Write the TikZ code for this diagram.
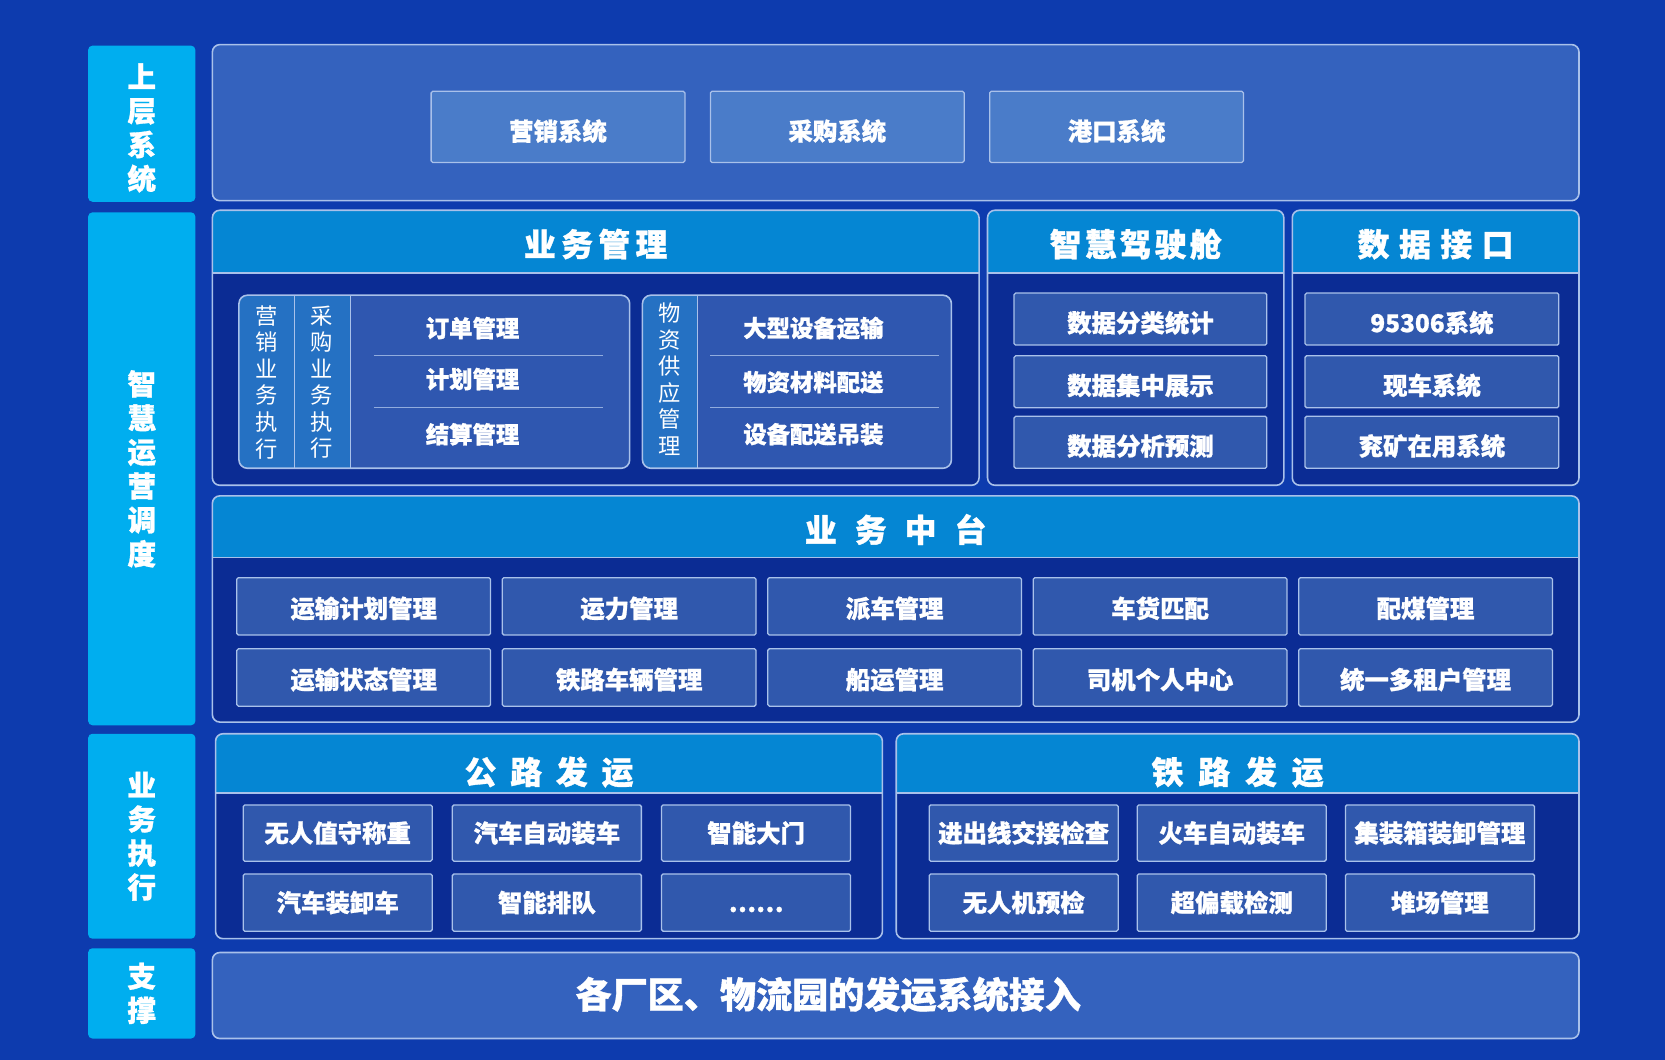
\documentclass[tikz,border=0pt]{standalone}
\usepackage{fontspec}
\newfontfamily\cjk{Noto Sans CJK SC}[BoldFeatures={FakeBold=1}]
\usetikzlibrary{positioning}
\definecolor{bgblue}{HTML}{0D3BAE}
\definecolor{labcyan}{HTML}{00AEEF}
\definecolor{topfill}{HTML}{3462BE}
\definecolor{topitem}{HTML}{4A7CC9}
\definecolor{hdrblue}{HTML}{0586D3}
\definecolor{bodyblue}{HTML}{0B2C94}
\definecolor{itemblue}{HTML}{3058AD}
\definecolor{grpblue}{HTML}{2F57B0}
\definecolor{stripblue}{HTML}{2571C3}
\definecolor{edge}{HTML}{A9C1EA}

\tikzset{
  lab/.style={fill=labcyan, rounded corners=4pt, text=white, align=center, inner sep=0pt,
    font=\cjk\bfseries\fontsize{27}{32}\selectfont},
  panel/.style={draw=edge, line width=1.5pt, rounded corners=7pt},
  head/.style={text=white, inner sep=0pt, text height=22.8pt, text depth=0pt,
    font=\cjk\bfseries\fontsize{30}{34}\selectfont},
  item/.style={draw=edge, line width=1.2pt, fill=itemblue, rounded corners=1.5pt, text=white,
    inner sep=0pt, text height=#1, text depth=0pt, font=\cjk\bfseries\fontsize{23}{27}\selectfont},
  item/.default=17.5pt,
  plain/.style={text=white, inner sep=0pt, font=\cjk\bfseries\fontsize{22}{26}\selectfont},
  vert/.style={text=white, align=center, inner sep=0pt, font=\cjk\fontsize{21}{25}\selectfont},
  sepline/.style={draw=edge!80!grpblue, line width=0.8pt}
}

\begin{document}
\begin{tikzpicture}[x=1pt, y=-1pt]
  \fill[bgblue] (0,0) rectangle (1568,998);
  \useasboundingbox (0,0) rectangle (1568,998);

  % layer labels
  \node[lab, minimum width=101pt, minimum height=147pt] (sys) at (133.5,116.5) {};
  \node[lab, fill=none] (sys-text) at (133.5,120.5) {上\\层\\系\\统};
  \node[lab, minimum width=101pt, minimum height=483pt] (ops) at (133.5,441.5) {智\\慧\\运\\营\\调\\度};
  \node[lab, minimum width=101pt, minimum height=193pt] (exec) at (133.5,787.5) {业\\务\\执\\行};
  \node[lab, minimum width=101pt, minimum height=85pt] (base) at (133.5,935.5) {支\\撑};

  % upper systems
  \draw[panel, fill=topfill] (200,42) rectangle (1487,189);
  \foreach \x/\ta [count=\i] in {406/营销系统,669/采购系统,932/港口系统}
    \node[item=25.5pt, fill=topitem, minimum width=239pt, minimum height=67pt] (up\i) at (\x+119.5,119.5) {\ta};

  % panels with header
  \foreach \xa/\xb/\ya/\yh/\yb/\yt/\n/\ta in {
      200/922/198/257/457/230/mgmt/{业\hspace{5pt}务\hspace{5pt}管\hspace{5pt}理},
      930/1209/198/257/457/230/cab/{智\hspace{3pt}慧\hspace{3pt}驾\hspace{3pt}驶\hspace{3pt}舱},
      1217/1487/198/257/457/230/api/{数\hspace{9pt}据\hspace{9pt}接\hspace{9pt}口},
      200/1487/467/525/680/499/mid/{业\hspace{17pt}务\hspace{17pt}中\hspace{17pt}台},
      203/831/691/747/884/727/road/{公\hspace{13pt}路\hspace{13pt}发\hspace{13pt}运},
      844/1487/691/747/884/727/rail/{铁\hspace{14pt}路\hspace{14pt}发\hspace{14pt}运}}{
    \fill[bodyblue, rounded corners=7pt] (\xa,\ya) rectangle (\xb,\yb);
    \fill[hdrblue] (\xa,\yh) [rounded corners=7pt] -- (\xa,\ya) -- (\xb,\ya) [sharp corners] -- (\xb,\yh) -- cycle;
    \draw[edge, line width=1.5pt] (\xa,\yh) -- (\xb,\yh);
    \draw[panel] (\xa,\ya) rectangle (\xb,\yb);
    \node[head] (\n-head) at ({(\xa+\xb)/2},\yt) {\ta};
  }

  % business management groups
  \begin{scope}
    \clip[rounded corners=8pt] (225,278) rectangle (593,441);
    \fill[grpblue] (225,278) rectangle (593,441);
    \fill[stripblue] (225,278) rectangle (330,441);
  \end{scope}
  \draw[edge, line width=1pt] (277,278) -- (277,441) (330,278) -- (330,441);
  \draw[edge, line width=1.5pt, rounded corners=8pt] (225,278) rectangle (593,441);
  \node[vert] (sales) at (251,360) {营\\销\\业\\务\\执\\行};
  \node[vert] (purch) at (303,360) {采\\购\\业\\务\\执\\行};
  \foreach \y/\ta [count=\i] in {309/订单管理,357/计划管理,409/结算管理}
    \node[plain] (ord\i) at (445,\y) {\ta};
  \draw[sepline] (352,335) -- (568,335) (352,384) -- (568,384);

  \begin{scope}
    \clip[rounded corners=8pt] (605,278) rectangle (896,441);
    \fill[grpblue] (605,278) rectangle (896,441);
    \fill[stripblue] (605,278) rectangle (657,441);
  \end{scope}
  \draw[edge, line width=1pt] (657,278) -- (657,441);
  \draw[edge, line width=1.5pt, rounded corners=8pt] (605,278) rectangle (896,441);
  \node[vert] (supply) at (631,357) {物\\资\\供\\应\\管\\理};
  \foreach \y/\ta [count=\i] in {309/大型设备运输,360/物资材料配送,409/设备配送吊装}
    \node[plain] (mat\i) at (766,\y) {\ta};
  \draw[sepline] (669,335) -- (884,335) (669,384) -- (884,384);

  % cockpit and interface
  \foreach \y/\ta/\tb [count=\i] in {276/数据分类统计/95306系统,335/数据集中展示/现车系统,392/数据分析预测/兖矿在用系统}{
    \node[item=24.5pt, minimum width=238pt, minimum height=49pt] (cab\i) at (1074,\y+24.5) {\ta};
    \node[item=24.5pt, minimum width=239pt, minimum height=49pt] (api\i) at (1348.5,\y+24.5) {\tb};
  }

  % middle platform
  \foreach \x/\ta/\tb [count=\i] in {223/运输计划管理/运输状态管理,473/运力管理/铁路车辆管理,
      723/派车管理/船运管理,973/车货匹配/司机个人中心,1223/配煤管理/统一多租户管理}{
    \node[item=21.5pt, minimum width=239pt, minimum height=54pt] (mida\i) at (\x+119.5,571) {\ta};
    \node[item=21.5pt, minimum width=239pt, minimum height=54pt] (midb\i) at (\x+119.5,638) {\tb};
  }

  % road and rail
  \foreach \x/\ta/\tb [count=\i] in {229/无人值守称重/汽车装卸车,426/汽车自动装车/智能排队,623/智能大门/……,
      875/进出线交接检查/无人机预检,1071/火车自动装车/超偏载检测,1267/集装箱装卸管理/堆场管理}{
    \node[item, minimum width=178pt, minimum height=53pt] (exa\i) at (\x+89,784.5) {\ta};
    \node[item, minimum width=178pt, minimum height=54pt] (exb\i) at (\x+89,850) {\tb};
  }

  % support
  \draw[panel, fill=topfill] (200,897) rectangle (1487,978);
  \node[head, font=\cjk\bfseries\fontsize{34}{38}\selectfont] (access) at (780,938) {各厂区、物流园的发运系统接入};
\end{tikzpicture}
\end{document}
